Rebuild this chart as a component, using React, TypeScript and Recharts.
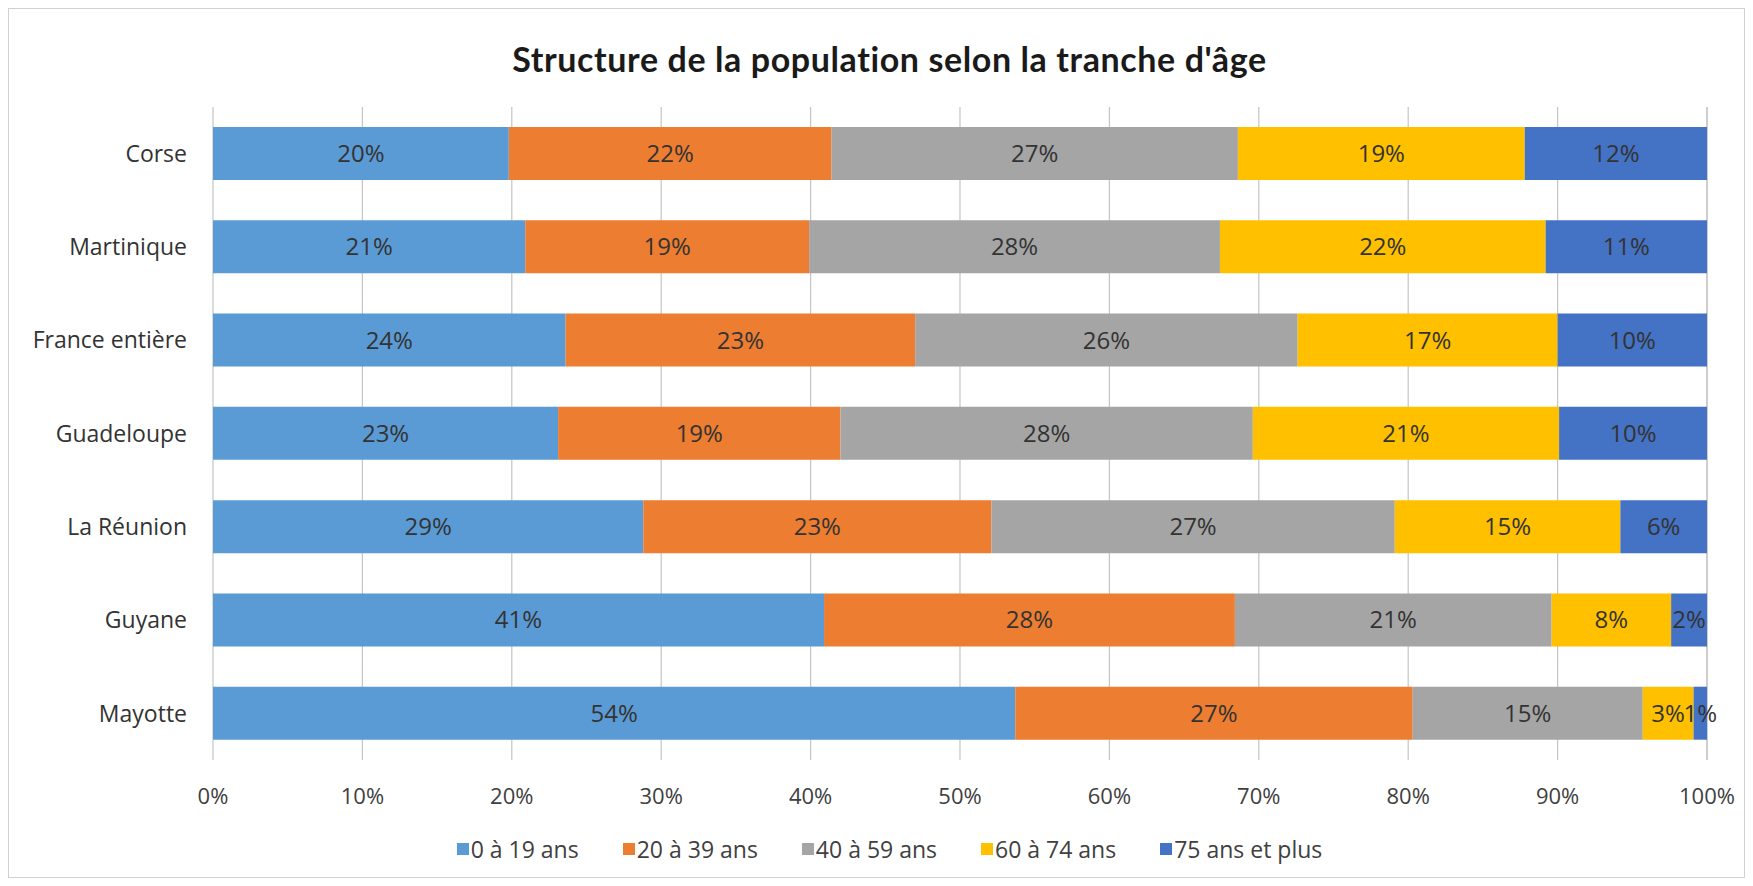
import { Bar, BarChart, CartesianGrid, LabelList, XAxis, YAxis } from 'recharts';

const regions = ['Corse', 'Martinique', 'France entière', 'Guadeloupe', 'La Réunion', 'Guyane', 'Mayotte'];

const age0to19 = [19.8, 20.9, 23.6, 23.1, 28.8, 40.9, 53.7];
const age20to39 = [21.6, 19.0, 23.4, 18.9, 23.3, 27.5, 26.6];
const age40to59 = [27.2, 27.5, 25.6, 27.6, 27.0, 21.2, 15.4];
const age60to74 = [19.2, 21.8, 17.4, 20.5, 15.1, 8.0, 3.4];
const age75plus = [12.2, 10.8, 10.0, 9.9, 5.8, 2.4, 0.9];

const xTicks = [0, 10, 20, 30, 40, 50, 60, 70, 80, 90, 100];

const series = [
  { key: 'a', name: '0 à 19 ans', color: '#5B9BD5', values: age0to19 },
  { key: 'b', name: '20 à 39 ans', color: '#ED7D31', values: age20to39 },
  { key: 'c', name: '40 à 59 ans', color: '#A5A5A5', values: age40to59 },
  { key: 'd', name: '60 à 74 ans', color: '#FFC000', values: age60to74 },
  { key: 'e', name: '75 ans et plus', color: '#4472C4', values: age75plus },
];

const data = regions.map((region, i) => {
  const row: Record<string, string | number> = { region };
  series.forEach((s) => {
    row[s.key] = s.values[i];
  });
  return row;
});

const WIDTH = 1735;
const HEIGHT = 868;

export default function App() {
  return (
    <div
      style={{
        position: 'relative',
        width: WIDTH,
        height: HEIGHT,
        border: '1px solid #d0d0d0',
        background: '#fff',
        fontFamily: 'Open Sans, sans-serif',
      }}
    >
      <div
        style={{
          position: 'absolute',
          top: 30,
          left: 0,
          width: WIDTH + 26,
          textAlign: 'center',
          fontSize: 34,
          lineHeight: '40px',
          letterSpacing: 0.6,
          fontWeight: 700,
          fontFamily: 'Lato, sans-serif',
          color: '#1a1a1a',
        }}
      >
        Structure de la population selon la tranche d'âge
      </div>
      <BarChart
        width={WIDTH}
        height={HEIGHT}
        data={data}
        layout="vertical"
        margin={{ top: 98, right: 37, bottom: 57, left: 0 }}
        barSize={53}
      >
        <CartesianGrid horizontal={false} stroke="#c4c4c4" strokeWidth={1.2} />
        <XAxis
          type="number"
          domain={[0, 100]}
          ticks={xTicks}
          tickFormatter={(v: number) => `${v}%`}
          axisLine={false}
          tickLine={false}
          tickSize={0}
          tickMargin={28}
          height={60}
          tick={{ fontSize: 22, fill: '#404040', fontFamily: 'Open Sans' }}
        />
        <YAxis
          type="category"
          dataKey="region"
          width={204}
          axisLine={false}
          tickLine={false}
          tickSize={0}
          tickMargin={26}
          tick={{ fontSize: 23, fill: '#333', fontFamily: 'Open Sans' }}
        />
        {series.map((s) => (
          <Bar key={s.key} dataKey={s.key} name={s.name} stackId="pop" fill={s.color} isAnimationActive={false}>
            <LabelList
              dataKey={s.key}
              position="center"
              formatter={(v: number) => `${Math.round(v)}%`}
              style={{ fontSize: 24, fill: '#333', fontFamily: 'Open Sans' }}
            />
          </Bar>
        ))}
      </BarChart>
      <div
        style={{
          position: 'absolute',
          top: 824,
          left: 0,
          width: WIDTH + 26,
          display: 'flex',
          justifyContent: 'center',
          gap: 44,
          fontSize: 23,
          color: '#404040',
        }}
      >
        {series.map((s) => (
          <div key={s.key} style={{ display: 'flex', alignItems: 'center', gap: 2 }}>
            <span style={{ display: 'inline-block', width: 12, height: 12, background: s.color }} />
            <span>{s.name}</span>
          </div>
        ))}
      </div>
    </div>
  );
}
